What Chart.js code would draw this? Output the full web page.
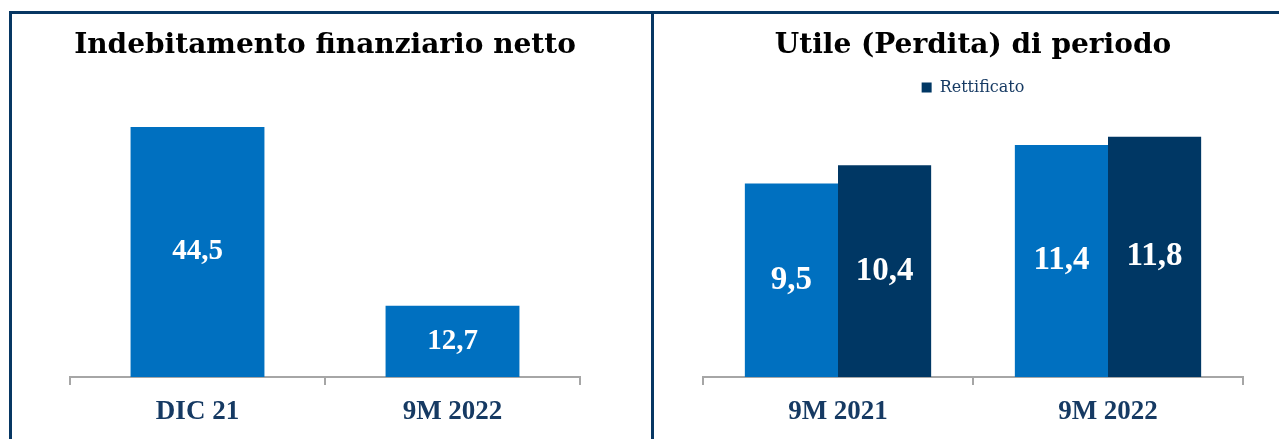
<!DOCTYPE html>
<html>
<head>
<meta charset="utf-8">
<script src="https://cdn.jsdelivr.net/npm/chart.js@4"></script>
<style>
  html, body { margin: 0; padding: 0; background: #fff; }
  body { width: 1279px; height: 439px; position: relative; overflow: hidden; }
  .frame-top { position: absolute; left: 9px; top: 11px; width: 1270px; height: 3px; background: #073763; }
  .frame-left { position: absolute; left: 9px; top: 11px; width: 3px; height: 428px; background: #073763; }
  .frame-mid { position: absolute; left: 651px; top: 11px; width: 3px; height: 428px; background: #073763; }
  .box { position: absolute; top: 14px; height: 425px; }
  #left-box { left: 12px; width: 639px; }
  #right-box { left: 654px; width: 625px; }
</style>
</head>
<body>
<div class="frame-top"></div>
<div class="frame-left"></div>
<div class="frame-mid"></div>
<div class="box" id="left-box"><canvas id="debtChart"></canvas></div>
<div class="box" id="right-box"><canvas id="profitChart"></canvas></div>

<script>
// Data
const debtLabels = ['DIC 21', '9M 2022'];
const debtValues = [44.5, 12.7];

const profitLabels = ['9M 2021', '9M 2022'];
const profitReported = [9.5, 11.4];
const profitAdjusted = [10.4, 11.8];

const LIGHT_BLUE = '#0070c0';
const DARK_BLUE = '#003764';
const AXIS_GREY = '#a6a6a6';
const SERIF = "'Liberation Serif', 'DejaVu Serif', serif";
const WIDE_SERIF = "'DejaVu Serif', serif";

// draws the value in the middle of each bar
const barValues = {
  id: 'barValues',
  afterDatasetsDraw(chart, args, opts) {
    const ctx = chart.ctx;
    ctx.save();
    ctx.fillStyle = '#fff';
    ctx.font = `bold ${opts.size}px ${SERIF}`;
    ctx.textAlign = 'center';
    ctx.textBaseline = 'middle';
    chart.data.datasets.forEach((ds, i) => {
      chart.getDatasetMeta(i).data.forEach((bar, j) => {
        const txt = ds.data[j].toFixed(1).replace('.', ',');
        ctx.fillText(txt, bar.x, (bar.y + bar.base) / 2);
      });
    });
    ctx.restore();
  }
};

function xAxis(height) {
  return {
    grid: { display: true, drawOnChartArea: false, drawTicks: true, tickLength: 8, color: AXIS_GREY, lineWidth: 2 },
    border: { display: true, color: AXIS_GREY, width: 2 },
    ticks: { color: '#163a63', padding: 11, font: { family: SERIF, size: 27, weight: 'bold' } },
    afterFit: (s) => { s.height = height; }
  };
}

new Chart(document.getElementById('debtChart'), {
  type: 'bar',
  data: {
    labels: debtLabels,
    datasets: [{
      label: 'Indebitamento finanziario netto',
      data: debtValues,
      backgroundColor: LIGHT_BLUE,
      barPercentage: 1,
      categoryPercentage: 0.525
    }]
  },
  options: {
    responsive: true,
    maintainAspectRatio: false,
    animation: false,
    layout: { padding: { left: 58, right: 71, top: 0, bottom: 0 } },
    scales: {
      x: xAxis(62),
      y: { display: false, min: 0, max: 50 }
    },
    plugins: {
      legend: { display: false },
      tooltip: { enabled: false },
      title: {
        display: true,
        text: 'Indebitamento finanziario netto',
        color: '#000',
        font: { family: WIDE_SERIF, size: 28, weight: 'bold' },
        padding: { top: 15, bottom: 33.5 }
      },
      barValues: { size: 29 }
    }
  },
  plugins: [barValues]
});

new Chart(document.getElementById('profitChart'), {
  type: 'bar',
  data: {
    labels: profitLabels,
    datasets: [{
      label: 'Riportato',
      data: profitReported,
      backgroundColor: LIGHT_BLUE,
      barPercentage: 1,
      categoryPercentage: 0.69
    }, {
      label: 'Rettificato',
      data: profitAdjusted,
      backgroundColor: DARK_BLUE,
      barPercentage: 1,
      categoryPercentage: 0.69
    }]
  },
  options: {
    responsive: true,
    maintainAspectRatio: false,
    animation: false,
    layout: { padding: { left: 49, right: 36, top: 0, bottom: 0 } },
    scales: {
      x: xAxis(62),
      y: { display: false, min: 0, max: 13.33 }
    },
    plugins: {
      legend: {
        display: true,
        labels: {
          filter: (item) => item.text === 'Rettificato',
          boxWidth: 10,
          boxHeight: 10,
          color: '#163a63',
          padding: 10,
          font: { family: WIDE_SERIF, size: 16 }
        }
      },
      tooltip: { enabled: false },
      title: {
        display: true,
        text: 'Utile (Perdita) di periodo',
        color: '#000',
        font: { family: WIDE_SERIF, size: 28, weight: 'bold' },
        padding: { top: 15, bottom: 7 }
      },
      barValues: { size: 33 }
    }
  },
  plugins: [barValues]
});
</script>
</body>
</html>
